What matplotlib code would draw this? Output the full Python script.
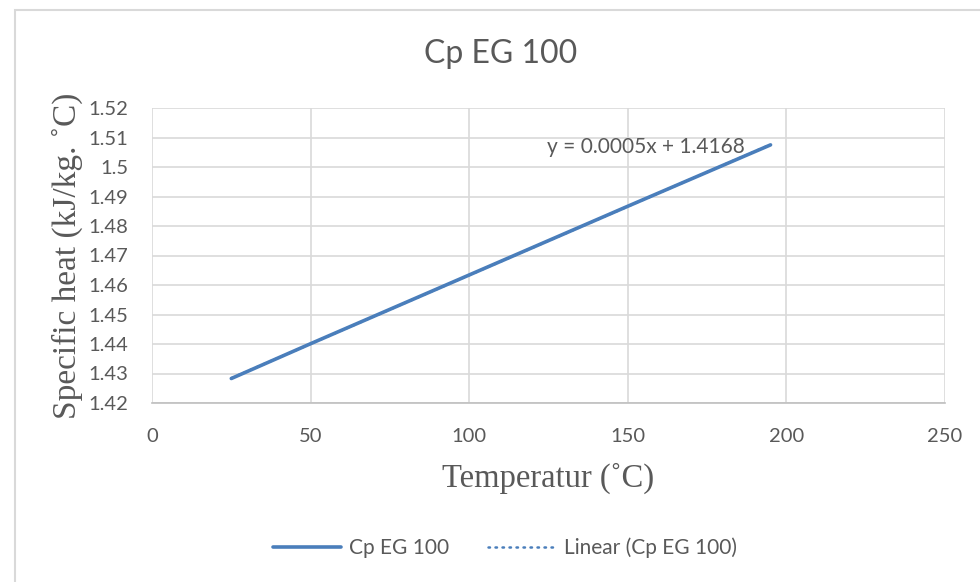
import numpy as np
import matplotlib
matplotlib.use("Agg")
import matplotlib.pyplot as plt
from matplotlib.patches import Rectangle

# Data
temperature = [25, 50, 100, 150, 195]
cp_eg100 = [1.4283, 1.4401, 1.4634, 1.4867, 1.5075]
x_ticks = [0, 50, 100, 150, 200, 250]
y_ticks = [1.42, 1.43, 1.44, 1.45, 1.46, 1.47, 1.48, 1.49, 1.50, 1.51, 1.52]
y_tick_labels = ["1.42", "1.43", "1.44", "1.45", "1.46", "1.47", "1.48", "1.49", "1.5", "1.51", "1.52"]
title = "Cp EG 100"
equation = "y = 0.0005x + 1.4168"

W, H = 980, 582
fig = plt.figure(figsize=(W / 100, H / 100), dpi=100)
fig.patch.set_facecolor("white")

# chart area border
fig.add_artist(Rectangle((15 / W, -0.1), 1.2, 1 - 10 / H + 0.1, transform=fig.transFigure,
                         fill=False, edgecolor="#d9d9d9", linewidth=1.5))

ax = fig.add_axes([152 / W, 1 - 403 / H, (945 - 152) / W, (403 - 108) / H])
ax.set_facecolor("none")
text_color = "#595959"
sans = ["Lato", "DejaVu Sans"]
serif = ["Liberation Serif", "DejaVu Serif"]

line_color = "#4A7EBB"
ax.plot(temperature, cp_eg100, color=line_color, linewidth=2.6, solid_capstyle="round",
        label="Cp EG 100", zorder=3)
coef = np.polyfit(temperature, cp_eg100, 1)
xs = np.array([min(temperature), max(temperature)])
ax.plot(xs, np.polyval(coef, xs), color=line_color, linewidth=1.8, linestyle=(0, (0.6, 2.2)),
        dash_capstyle="round", label="Linear (Cp EG 100)", zorder=2)

ax.set_xlim(0, 250)
ax.set_ylim(1.42, 1.52)
ax.set_xticks(x_ticks)
ax.set_yticks(y_ticks)
ax.set_yticklabels(y_tick_labels)
for lab in ax.get_xticklabels() + ax.get_yticklabels():
    lab.set_fontfamily(sans)
    lab.set_fontsize(14.5)
    lab.set_color(text_color)
ax.tick_params(axis="both", length=0)
ax.tick_params(axis="x", pad=18)
ax.tick_params(axis="y", pad=17)
ax.grid(True, color="#d9d9d9", linewidth=1.2)
ax.set_axisbelow(True)
for s in ["top", "right", "left"]:
    ax.spines[s].set_visible(False)
ax.spines["bottom"].set_color("#bfbfbf")
ax.spines["bottom"].set_linewidth(1.2)

ax.set_xlabel("Temperatur (˚C)", fontfamily=serif, fontsize=23.5, color=text_color, labelpad=13)
ax.set_ylabel("Specific heat (kJ/kg. ˚C)", fontfamily=serif, fontsize=24, color=text_color, labelpad=4)

fig.text(501 / W, 1 - 54 / H, title, fontfamily=sans, fontsize=23, color=text_color,
         ha="center", va="center")
fig.text(646 / W, 1 - 147 / H, equation, fontfamily=sans, fontsize=15, color=text_color,
         ha="center", va="center")

leg = fig.legend(loc="center", bbox_to_anchor=(505 / W, 1 - 548 / H), ncol=2, frameon=False,
                 prop={"family": sans, "size": 15}, handlelength=3.3, columnspacing=1.9,
                 handletextpad=0.35)
for t in leg.get_texts():
    t.set_color(text_color)

fig.savefig("out.png", dpi=100, facecolor="white")
